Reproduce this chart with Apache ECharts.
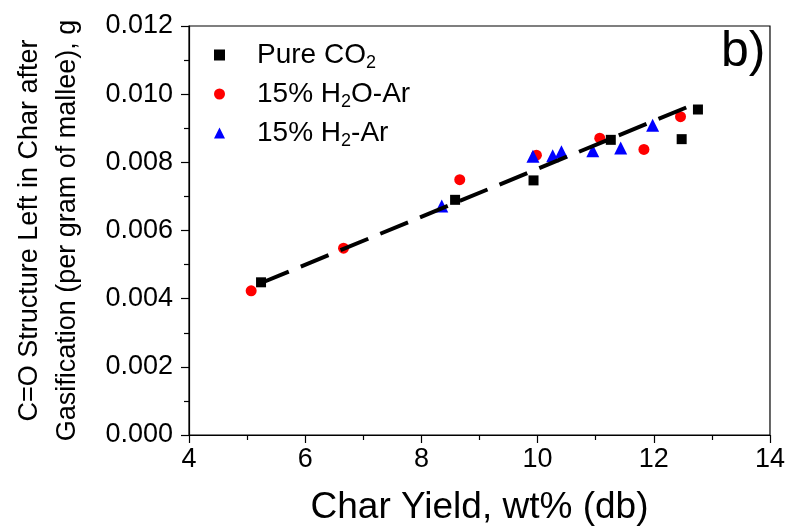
<!DOCTYPE html>
<html>
<head>
<meta charset="utf-8">
<script src="https://cdn.jsdelivr.net/npm/echarts@6/dist/echarts.min.js"></script>
<style>
html,body{margin:0;padding:0;background:#fff;}
#chart{width:788px;height:531px;}
</style>
</head>
<body>
<div id="chart"></div>
<script>
// ---- data ----
var seriesNames = ['Pure CO2', '15% H2O-Ar', '15% H2-Ar'];
var pureCO2 = [
  [5.24, 0.00448], [8.58, 0.00690], [9.93, 0.00747], [11.26, 0.00866],
  [12.48, 0.00868], [12.76, 0.00955]
];
var h2oAr = [
  [5.07, 0.00423], [6.66, 0.00548], [8.66, 0.00749], [9.98, 0.00821],
  [11.07, 0.00871], [11.83, 0.00838], [12.46, 0.00934]
];
var h2Ar = [
  [8.35, 0.00672], [9.92, 0.00818], [10.26, 0.00819], [10.41, 0.00831],
  [10.95, 0.00834], [11.43, 0.00842], [11.98, 0.00909]
];
var fitLine = [[5.24, 0.00446], [12.73, 0.00973]];
var xTicks = [4, 6, 8, 10, 12, 14];
var yTicks = [0.000, 0.002, 0.004, 0.006, 0.008, 0.010, 0.012];

var chart = echarts.init(document.getElementById('chart'), null, {renderer: 'canvas'});
var font = 'Liberation Sans, Arial, sans-serif';
var legendRich = {
  n: {fontSize: 28, fontFamily: font, color: '#000', lineHeight: 34},
  s: {fontSize: 18, fontFamily: font, color: '#000', verticalAlign: 'top', padding: [16, 0, 0, 0]},
  p: {width: 27}
};
function legendFmt(name) {
  if (name === seriesNames[0]) return '{p|}{n|Pure CO}{s|2}';
  if (name === seriesNames[1]) return '{p|}{n|15% H}{s|2}{n|O-Ar}';
  return '{p|}{n|15% H}{s|2}{n|-Ar}';
}
var option = {
  backgroundColor: '#fff',
  animation: false,
  grid: {left: 189, right: 18, top: 26, bottom: 93, show: true, borderColor: '#000', borderWidth: 1.2},
  title: {text: 'b)', left: 716, top: 22, textStyle: {fontSize: 50, fontWeight: 'normal', fontFamily: font, color: '#000'}},
  legend: {
    orient: 'vertical', left: 209, top: 36, itemWidth: 11, itemHeight: 11, itemGap: 8,
    data: [
      {name: seriesNames[0], icon: 'rect'},
      {name: seriesNames[1], icon: 'circle'},
      {name: seriesNames[2], icon: 'triangle'}
    ],
    formatter: legendFmt,
    textStyle: {rich: legendRich}
  },
  xAxis: {
    type: 'value', min: xTicks[0], max: xTicks[xTicks.length - 1], interval: 2,
    name: 'Char Yield, wt% (db)', nameLocation: 'middle', nameGap: 54,
    nameTextStyle: {fontSize: 37, fontFamily: font, color: '#000'},
    axisLine: {lineStyle: {color: '#000', width: 1.2}},
    axisTick: {inside: false, length: 8, lineStyle: {color: '#000', width: 1.2}},
    minorTick: {show: true, splitNumber: 2, length: 5, lineStyle: {color: '#000', width: 1.2}},
    axisLabel: {fontSize: 27, fontFamily: font, color: '#000', margin: 11},
    splitLine: {show: false}
  },
  yAxis: {
    type: 'value', min: yTicks[0], max: yTicks[yTicks.length - 1], interval: 0.002,
    name: 'C=O Structure Left in Char after\nGasification (per gram of mallee), g',
    nameLocation: 'middle', nameGap: 102,
    nameTextStyle: {fontSize: 27, fontFamily: font, color: '#000', lineHeight: 38},
    axisLine: {lineStyle: {color: '#000', width: 1.2}},
    axisTick: {inside: false, length: 8, lineStyle: {color: '#000', width: 1.2}},
    minorTick: {show: true, splitNumber: 2, length: 5, lineStyle: {color: '#000', width: 1.2}},
    axisLabel: {fontSize: 27, fontFamily: font, color: '#000', margin: 16,
      formatter: function (v) { return v.toFixed(3); }},
    splitLine: {show: false}
  },
  series: [
    {name: seriesNames[0], type: 'scatter', symbol: 'rect', symbolSize: 10, data: pureCO2,
      itemStyle: {color: '#000', opacity: 1}, z: 3},
    {name: seriesNames[1], type: 'scatter', symbol: 'circle', symbolSize: 11, data: h2oAr,
      itemStyle: {color: '#ff0000', opacity: 1}, z: 2},
    {name: seriesNames[2], type: 'scatter', symbol: 'triangle', symbolSize: 13, data: h2Ar,
      itemStyle: {color: '#0000ff', opacity: 1}, z: 4},
    {name: 'fit', type: 'line', data: fitLine, symbol: 'none', z: 5,
      lineStyle: {color: '#000', width: 4, type: [30, 13]}}
  ]
};
chart.setOption(option);
</script>
</body>
</html>
